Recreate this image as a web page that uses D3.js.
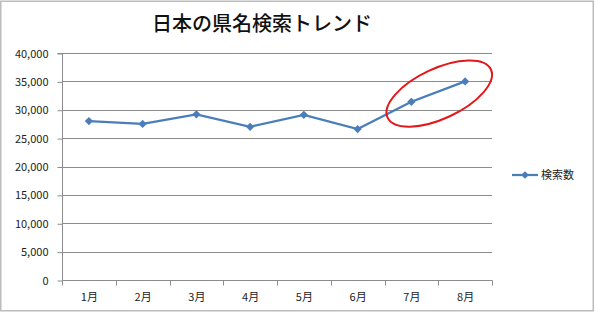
<!DOCTYPE html>
<html><head><meta charset="utf-8">
<script src="https://cdn.jsdelivr.net/npm/d3@7"></script>
<style>body{margin:0;background:#fff}svg{display:block}</style>
</head><body>
<script>
const title = "日本の県名検索トレンド";
const categories = ["1月","2月","3月","4月","5月","6月","7月","8月"];
const seriesName = "検索数";
const values = [28000, 27500, 29200, 27000, 29100, 26600, 31400, 35000];
const yTicks = [0,5000,10000,15000,20000,25000,30000,35000,40000];

const W=595,H=313;
const svg=d3.select("body").append("svg").attr("width",W).attr("height",H);
svg.append("rect").attr("x",0.75).attr("y",1.25).attr("width",592.5).attr("height",309.5)
  .attr("fill","#fff").attr("stroke","#bcbcbc").attr("stroke-width",1.5);

const L=62,R=492,T=53,B=280;
const x=d3.scaleBand().domain(categories).range([L,R]);
const y=d3.scaleLinear().domain([0,40000]).range([B,T]);
const font="'Noto Sans CJK JP', sans-serif";

svg.append("text").attr("x",262).attr("y",31).attr("text-anchor","middle")
  .attr("font-family",font).attr("font-size",20).attr("font-weight",500).attr("fill","#111").text(title);

// gridlines
svg.append("g").selectAll("line").data(yTicks.filter(d=>d>0)).join("line")
  .attr("x1",L).attr("x2",R).attr("y1",d=>Math.round(y(d))+0.5).attr("y2",d=>Math.round(y(d))+0.5)
  .attr("stroke","#8c8c8c").attr("stroke-width",1);

const ya=svg.append("g").attr("transform",`translate(${L+0.5},0.5)`)
  .call(d3.axisLeft(y).tickValues(yTicks).tickSize(5).tickPadding(9).tickFormat(d3.format(",")));
ya.select(".domain").attr("stroke","#8c8c8c").attr("d",`M-5,${T}H0V${B}`);
ya.selectAll(".tick line").attr("stroke","#8c8c8c");
ya.selectAll("text").attr("font-family",font).attr("font-size",11).attr("fill","#222");

const xa=svg.append("g").attr("transform",`translate(0.5,${B+0.5})`)
  .call(d3.axisBottom(x).tickSize(0).tickPadding(13));
xa.select(".domain").attr("stroke","#8c8c8c").attr("d",`M${L},0H${R}`);
xa.selectAll("text").attr("font-family",font).attr("font-size",11).attr("fill","#222");
xa.append("g").selectAll("line").data(categories.concat([null])).join("line")
  .attr("x1",(d,i)=>Math.round(L+i*x.bandwidth())).attr("x2",(d,i)=>Math.round(L+i*x.bandwidth()))
  .attr("y1",0).attr("y2",5).attr("stroke","#8c8c8c");

const cx=d=>x(d)+x.bandwidth()/2;
const color="#4a7ebb";
svg.append("path").datum(values).attr("fill","none").attr("stroke",color).attr("stroke-width",2.25)
  .attr("d",d3.line().x((d,i)=>cx(categories[i])).y(d=>y(d)));
svg.append("g").selectAll("path").data(values).join("path")
  .attr("d",d3.symbol().type(d3.symbolSquare).size(34))
  .attr("transform",(d,i)=>`translate(${cx(categories[i])},${y(d)}) rotate(45)`)
  .attr("fill",color);

// highlight ellipse around 7月-8月
const ex=(cx(categories[6])+cx(categories[7]))/2+1, ey=(y(values[6])+y(values[7]))/2+2;
svg.append("ellipse").attr("cx",ex).attr("cy",ey).attr("rx",57).attr("ry",25)
  .attr("transform",`rotate(-25,${ex},${ey})`)
  .attr("fill","none").attr("stroke","#e3181c").attr("stroke-width",2);

// legend
const lg=svg.append("g").attr("transform","translate(512,175)");
lg.append("line").attr("x1",0).attr("x2",26).attr("stroke",color).attr("stroke-width",2.25);
lg.append("path").attr("d",d3.symbol().type(d3.symbolSquare).size(30)).attr("transform","translate(13,0) rotate(45)").attr("fill",color);
lg.append("text").attr("x",29).attr("y",4).attr("font-family",font).attr("font-size",11).attr("fill","#222").text(seriesName);
</script>
</body></html>
